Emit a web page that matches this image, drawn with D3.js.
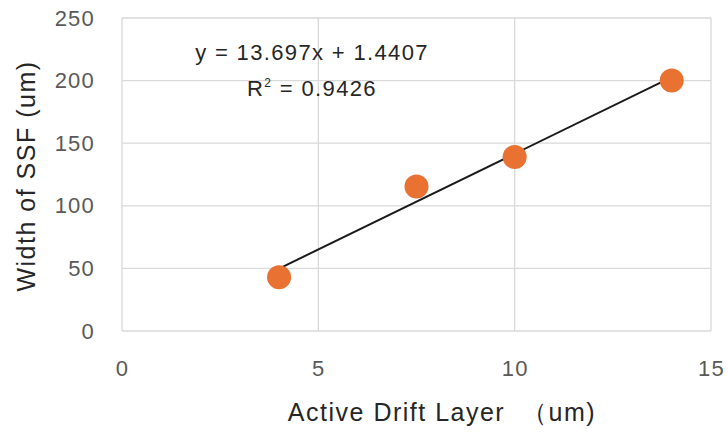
<!DOCTYPE html>
<html>
<head>
<meta charset="utf-8">
<script src="https://cdn.jsdelivr.net/npm/d3@7"></script>
<style>
  body { margin: 0; background: #fff; }
  text { font-family: "Liberation Sans", Arial, sans-serif; }
</style>
</head>
<body>
<div id="chart"></div>
<script>
// data
const drift = [4, 7.5, 10, 14];
const ssf = [43, 115.5, 139, 200];
const xTicks = [0, 5, 10, 15];
const yTicks = [0, 50, 100, 150, 200, 250];
const eqLabel = "y = 13.697x + 1.4407";
const r2Value = "0.9426";

const W = 728, H = 434;
const margin = {top: 18, right: 17, bottom: 103, left: 122};
const width = W - margin.left - margin.right,
      height = H - margin.top - margin.bottom;

const svg = d3.select("#chart")
  .append("svg")
    .attr("width", W)
    .attr("height", H)
  .append("g")
    .attr("transform", `translate(${margin.left}, ${margin.top})`);

const x = d3.scaleLinear().domain([0, 15]).range([0, width]);
const y = d3.scaleLinear().domain([0, 250]).range([height, 0]);

// grid
svg.append("g")
  .selectAll("line")
  .data(yTicks)
  .join("line")
    .attr("x1", 0).attr("x2", width)
    .attr("y1", d => y(d)).attr("y2", d => y(d))
    .attr("stroke", "#d9d9d9").attr("stroke-width", 1.3);

svg.append("g")
  .selectAll("line")
  .data(xTicks)
  .join("line")
    .attr("x1", d => x(d)).attr("x2", d => x(d))
    .attr("y1", 0).attr("y2", height)
    .attr("stroke", "#d9d9d9").attr("stroke-width", 1.3);

// axis tick labels
const xAxis = svg.append("g")
  .attr("transform", `translate(0, ${height})`)
  .call(d3.axisBottom(x).tickValues(xTicks).tickSize(0).tickPadding(29));
const yAxis = svg.append("g")
  .call(d3.axisLeft(y).tickValues(yTicks).tickSize(0).tickPadding(27));
[xAxis, yAxis].forEach(a => {
  a.select(".domain").remove();
  a.selectAll("text")
    .style("font-size", "22px")
    .style("letter-spacing", "1.2px")
    .attr("fill", "#595959");
});

// trendline (least squares over the points)
const mx = d3.mean(drift), my = d3.mean(ssf);
const sxy = d3.sum(drift, (d, i) => (d - mx) * (ssf[i] - my));
const sxx = d3.sum(drift, d => (d - mx) * (d - mx));
const slope = sxy / sxx, icpt = my - slope * mx;
const ext = d3.extent(drift);

svg.append("line")
  .attr("x1", x(ext[0])).attr("y1", y(slope * ext[0] + icpt))
  .attr("x2", x(ext[1])).attr("y2", y(slope * ext[1] + icpt))
  .attr("stroke", "#1a1a1a").attr("stroke-width", 2);

// points
svg.selectAll("circle")
  .data(drift)
  .join("circle")
    .attr("cx", d => x(d))
    .attr("cy", (d, i) => y(ssf[i]))
    .attr("r", 12)
    .attr("fill", "#e97132");

// trendline label
svg.append("text")
  .attr("x", 190).attr("y", 42)
  .attr("text-anchor", "middle")
  .style("font-size", "22px")
  .style("letter-spacing", "1.35px")
  .attr("fill", "#262626")
  .text(eqLabel);

const r2 = svg.append("text")
  .attr("x", 190).attr("y", 78)
  .attr("text-anchor", "middle")
  .style("font-size", "22px")
  .style("letter-spacing", "1.35px")
  .attr("fill", "#262626");
r2.append("tspan").text("R");
r2.append("tspan").attr("dy", -9).style("font-size", "12px").text("2");
r2.append("tspan").attr("dy", 9).text(" = " + r2Value);

// axis titles
svg.append("text")
  .attr("x", 320)
  .attr("y", height + 90)
  .attr("text-anchor", "middle")
  .style("font-size", "25px")
  .style("letter-spacing", "1.5px")
  .attr("fill", "#262626")
  .text("Active Drift Layer\u00a0 （um)");

svg.append("text")
  .attr("transform", `translate(${-87}, ${158}) rotate(-90)`)
  .attr("text-anchor", "middle")
  .style("font-size", "25px")
  .style("letter-spacing", "1.5px")
  .attr("fill", "#262626")
  .text("Width of SSF (um)");
</script>
</body>
</html>
